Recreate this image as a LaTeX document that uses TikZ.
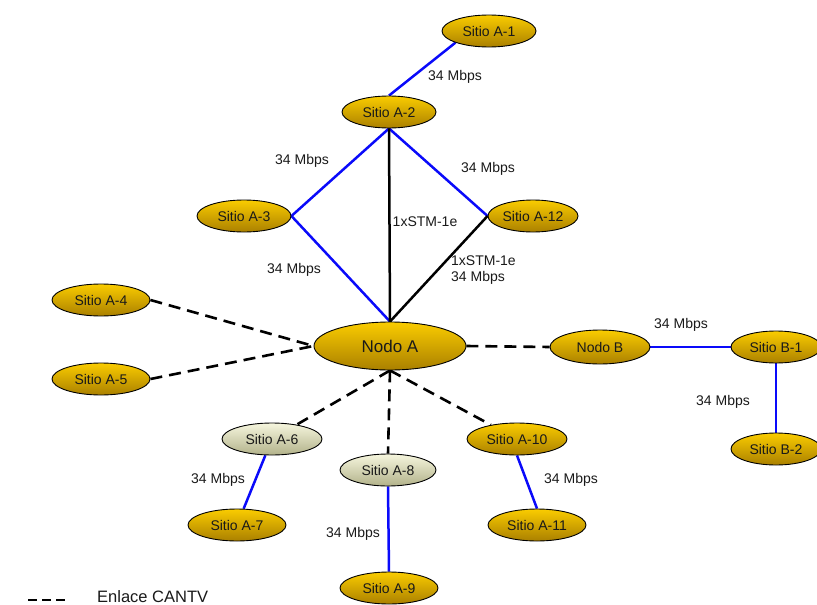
\documentclass[tikz,border=0pt]{standalone}
\usepackage{fontspec}
\setmainfont{Liberation Sans}
\usetikzlibrary{shapes.geometric,backgrounds}
\definecolor{goldtop}{RGB}{250,204,0}
\definecolor{goldbot}{RGB}{170,128,0}
\definecolor{paletop}{RGB}{246,246,222}
\definecolor{palebot}{RGB}{178,178,138}
\definecolor{linkblue}{RGB}{10,10,250}
\tikzset{
  site/.style={ellipse, draw=black, line width=0.9pt, inner sep=0pt,
    minimum width=94pt, minimum height=32pt, top color=goldtop, bottom color=goldbot,
    font=\fontsize{14}{16}\selectfont, text=black!90},
  palesite/.style={site, top color=paletop, bottom color=palebot},
  hub/.style={site, minimum width=152pt, minimum height=48pt, font=\fontsize{17}{20}\selectfont},
  fiber/.style={linkblue, line width=2.5pt},
  stm/.style={black, line width=2.5pt},
  cantv/.style={black, line width=2.6pt, dash pattern=on 12pt off 7pt},
  rate/.style={font=\fontsize{14}{16}\selectfont, text=black!90, inner sep=0pt, align=left}
}
\begin{document}
\begin{tikzpicture}[x=1pt,y=-1pt]
\useasboundingbox (0,0) rectangle (817,605);

% sites
\node[site] (a1) at (489,31) {Sitio A-1};
\node[site] (a2) at (389,112) {Sitio A-2};
\node[site] (a3) at (244,216) {Sitio A-3};
\node[site, minimum width=90pt] (a12) at (533,216) {Sitio A-12};
\node[site, minimum width=98pt] (a4) at (101,300) {Sitio A-4};
\node[site, minimum width=98pt] (a5) at (101,379) {Sitio A-5};
\node[hub] (na) at (390,346) {Nodo A};
\node[site, minimum width=100pt, minimum height=34pt] (nb) at (600,347) {Nodo B};
\node[site, minimum width=90pt] (b1) at (776,347) {Sitio B-1};
\node[site, minimum width=90pt] (b2) at (776,449) {Sitio B-2};
\node[palesite, minimum width=100pt] (a6) at (272,439) {Sitio A-6};
\node[palesite, minimum width=96pt] (a8) at (388,470) {Sitio A-8};
\node[site, minimum width=100pt] (a10) at (517,439) {Sitio A-10};
\node[site, minimum width=98pt] (a7) at (237,525) {Sitio A-7};
\node[site, minimum width=98pt] (a9) at (389,588) {Sitio A-9};
\node[site, minimum width=98pt] (a11) at (537,525) {Sitio A-11};

% links, kept behind the site ellipses
\begin{scope}[on background layer]
\draw[fiber] (a2.north) -- (a1.south west);
\draw[fiber] (a2.south) -- (a3.east);
\draw[fiber] (a2.south) -- (a12.west);
\draw[fiber] (a3.east) -- (na.north);
\draw[stm] (a2.south) -- (na.north);
\draw[stm] (a12.west) -- (na.north);
\draw[cantv] (a4.east) -- (na.west);
\draw[cantv] (a5.east) -- (na.west);
\draw[cantv] (na.east) -- (nb.west);
\draw[cantv] (na.south) -- (a6);
\draw[cantv] (na.south) -- (a8.north);
\draw[cantv] (na.south) -- (a10);
\draw[fiber] (nb.east) -- (b1.west);
\draw[fiber] (b1.south) -- (b2.north);
\draw[fiber] (a6) -- (a7);
\draw[fiber] (a8.south) -- (a9.north);
\draw[fiber] (a10.south) -- (a11.north);
\end{scope}

% rate labels
\node[rate] (l1) at (455,77) {34 Mbps};
\node[rate] (l2) at (302,161) {34 Mbps};
\node[rate] (l3) at (488,169) {34 Mbps};
\node[rate] (l4) at (425,222) {1xSTM-1e};
\node[rate] (l5) at (294,270) {34 Mbps};
\node[rate, anchor=west] (l6) at (451,270) {1xSTM-1e\\34 Mbps};
\node[rate] (l7) at (681,325) {34 Mbps};
\node[rate] (l8) at (723,402) {34 Mbps};
\node[rate] (l9) at (218,480) {34 Mbps};
\node[rate] (l10) at (353,534) {34 Mbps};
\node[rate] (l11) at (571,480) {34 Mbps};

% legend
\coordinate (k1) at (28,600);
\coordinate (k2) at (66,600);
\draw[cantv, dash pattern=on 9pt off 5pt] (k1) -- (k2);
\node[rate, anchor=base west, font=\fontsize{16.5}{18}\selectfont] (kt) at (97,602) {Enlace CANTV};
\end{tikzpicture}
\end{document}
